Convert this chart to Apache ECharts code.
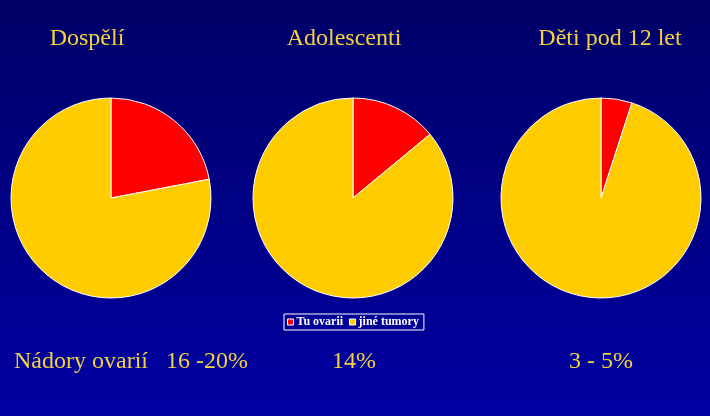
<!DOCTYPE html>
<html>
<head>
<meta charset="utf-8">
<script src="https://cdn.jsdelivr.net/npm/echarts@6/dist/echarts.min.js"></script>
<style>html,body{margin:0;padding:0;}#c{width:710px;height:416px;}</style>
</head>
<body>
<div id="c"></div>
<script>
const groups = ['Dospělí', 'Adolescenti', 'Děti pod 12 let'];
const tuOvarii = [22, 14, 5];
const jineTumory = [78, 86, 95];
const legendNames = ['Tu ovarii', 'jiné tumory'];
const footnotes = ['Nádory ovarií   16 -20%', '14%', '3 - 5%'];

const centersX = [111, 353, 601];
const titleX = [82, 339, 605];
const footX = [126, 349, 596];
const serif = '"Liberation Serif", "DejaVu Serif", serif';
const yellow = '#F5D040';

const chart = echarts.init(document.getElementById('c'));
const titles = [];
groups.forEach((g, i) => {
  titles.push({ text: g, left: titleX[i], top: 22, textAlign: 'center',
    textStyle: { color: yellow, fontFamily: serif, fontSize: 24, fontWeight: 'normal' } });
});
footnotes.forEach((f, i) => {
  titles.push({ text: f, left: footX[i], top: 345, textAlign: 'center',
    textStyle: { color: yellow, fontFamily: serif, fontSize: 24, fontWeight: 'normal', whiteSpace: 'pre' } });
});

const series = groups.map((g, i) => ({
  type: 'pie',
  name: g,
  center: [centersX[i], 198],
  radius: 100,
  startAngle: 90,
  clockwise: true,
  label: { show: false },
  labelLine: { show: false },
  silent: true,
  animation: false,
  itemStyle: { borderColor: '#ffffff', borderWidth: 1 },
  data: [
    { name: legendNames[0], value: tuOvarii[i], itemStyle: { color: '#FF0000' } },
    { name: legendNames[1], value: jineTumory[i], itemStyle: { color: '#FFCC00' } }
  ]
}));

chart.setOption({
  backgroundColor: new echarts.graphic.LinearGradient(0, 0, 0, 1, [
    { offset: 0, color: '#000068' },
    { offset: 1, color: '#0000A2' }
  ]),
  animation: false,
  title: titles,
  legend: {
    data: legendNames,
    left: 284,
    top: 314,
    orient: 'horizontal',
    itemWidth: 6,
    itemHeight: 6,
    itemGap: 6,
    padding: [2, 5, 2, 3],
    borderColor: '#ffffff',
    borderWidth: 1,
    icon: 'rect',
    selectedMode: false,
    itemStyle: { borderColor: '#ffffff', borderWidth: 1 },
    textStyle: { color: '#ffffff', fontFamily: serif, fontSize: 12, fontWeight: 'bold', padding: [0, 0, 0, -2] }
  },
  series: series
});
</script>
</body>
</html>
